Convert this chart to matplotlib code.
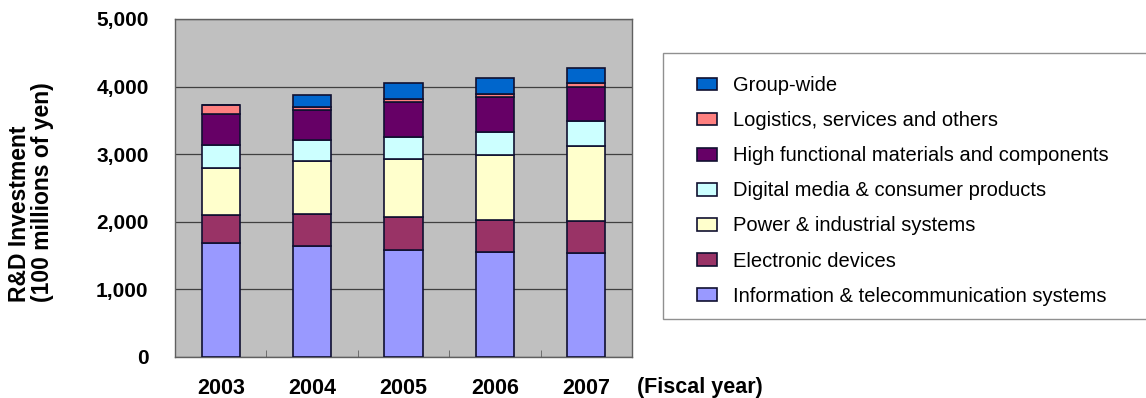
import matplotlib.pyplot as plt
from matplotlib.patches import Rectangle, Patch
from matplotlib.ticker import FuncFormatter, FixedLocator

years = ['2003', '2004', '2005', '2006', '2007']

# stacked from bottom to top
info_telecom = [1690, 1635, 1590, 1560, 1540]
electronic = [410, 477, 487, 468, 473]
power_industrial = [700, 783, 852, 961, 1112]
digital_media = [335, 321, 325, 344, 365]
high_functional = [458, 438, 517, 517, 506]
logistics = [133, 49, 49, 40, 55]
group_wide = [0, 173, 226, 236, 222]

series = [
    ('Information & telecommunication systems', info_telecom, '#9999FF'),
    ('Electronic devices', electronic, '#993366'),
    ('Power & industrial systems', power_industrial, '#FFFFCC'),
    ('Digital media & consumer products', digital_media, '#CCFFFF'),
    ('High functional materials and components', high_functional, '#660066'),
    ('Logistics, services and others', logistics, '#FF8080'),
    ('Group-wide', group_wide, '#0066CC'),
]

plt.rcParams['font.family'] = ['Liberation Sans', 'DejaVu Sans']

fig = plt.figure(figsize=(11.46, 3.98), dpi=100)
ax = fig.add_axes([175 / 1146, 1 - 357 / 398, 457 / 1146, 338 / 398])
ax.set_facecolor('#C0C0C0')

x = list(range(len(years)))
bottom = [0] * len(years)
handles = []
for name, vals, color in series:
    ax.bar(x, vals, width=0.42, bottom=bottom, color=color,
           edgecolor='#101030', linewidth=1.2, zorder=3)
    bottom = [b + v for b, v in zip(bottom, vals)]
    handles.append(Patch(facecolor=color, edgecolor='#101030', linewidth=1.2, label=name))

ax.set_xlim(-0.5, len(years) - 0.5)
ax.set_ylim(0, 5000)
ax.set_yticks(range(0, 5001, 1000))
ax.yaxis.set_major_formatter(FuncFormatter(lambda v, p: '{:,}'.format(int(v))))
ax.grid(axis='y', color='#404040', linewidth=0.9, zorder=1)

ax.set_xticks(x)
ax.set_xticklabels(years, fontsize=15.5, fontweight='bold')
ax.tick_params(axis='x', length=0, pad=15)
ax.xaxis.set_minor_locator(FixedLocator([i + 0.5 for i in x[:-1]]))
ax.tick_params(axis='x', which='minor', direction='in', length=5, color='#606060')
ax.tick_params(axis='y', length=0, pad=19)
for lbl in ax.get_yticklabels():
    lbl.set_fontsize(15)
    lbl.set_fontweight('bold')

for s in ax.spines.values():
    s.set_color('#606060')
    s.set_linewidth(1)

fig.text(31 / 1146, 1 - 192 / 398, 'R&D Investment\n(100 millions of yen)',
         rotation=90, ha='center', va='center', fontsize=16.5,
         fontweight='bold', linespacing=1.0, multialignment='left')
fig.text(637 / 1146, 1 - 388 / 398, '(Fiscal year)', ha='left', va='center',
         fontsize=15.5, fontweight='bold')

# legend frame
fig.patches.append(Rectangle((663 / 1146, 1 - 319 / 398), 500 / 1146, 266 / 398,
                             transform=fig.transFigure, facecolor='white',
                             edgecolor='#909090', linewidth=1))
fig.legend(handles[::-1], [h.get_label() for h in handles[::-1]],
           loc='upper left', bbox_to_anchor=(697 / 1146, 1 - 76 / 398),
           frameon=False, fontsize=14.5, handlelength=1.0, handleheight=0.6,
           handletextpad=0.8, labelspacing=0.8, borderpad=0, borderaxespad=0)

fig.savefig('out.png', dpi=100)
